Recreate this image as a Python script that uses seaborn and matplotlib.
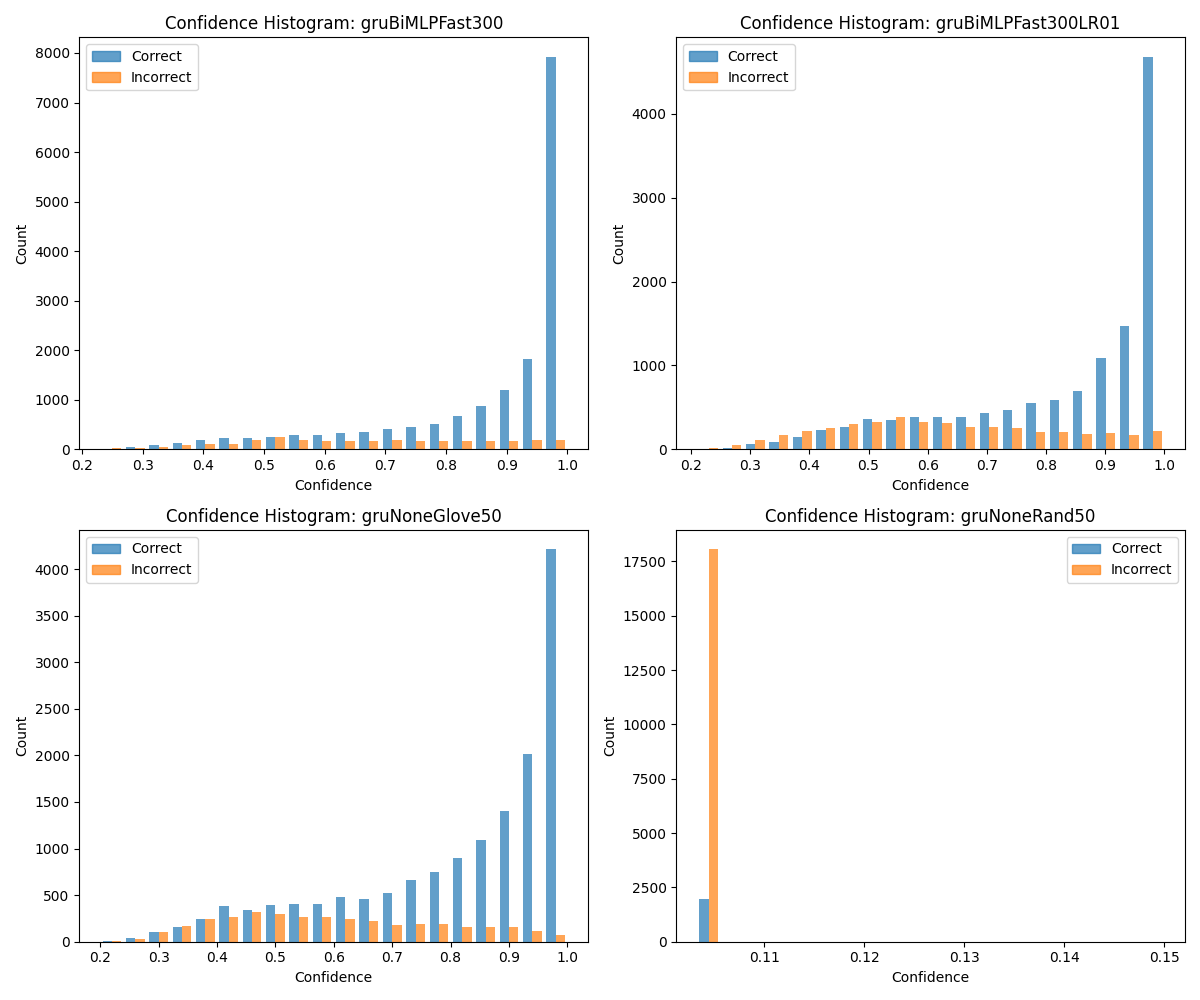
import numpy as np
import pandas as pd
import matplotlib
matplotlib.use("Agg")
import matplotlib.pyplot as plt
import seaborn as sns
from matplotlib.patches import Patch

# Bin counts (20 bins each)
edges_fast300 = np.linspace(0.23, 1.0, 21)
correct_fast300 = [10, 40, 80, 130, 190, 220, 230, 250, 290, 290, 330, 350, 410, 450, 510, 680, 880, 1200, 1820, 7920]
incorrect_fast300 = [20, 30, 50, 80, 100, 110, 190, 250, 180, 170, 170, 170, 180, 170, 170, 160, 170, 170, 190, 190]

edges_lr01 = np.linspace(0.21, 1.0, 21)
correct_lr01 = [5, 20, 60, 90, 150, 230, 260, 360, 350, 390, 390, 380, 430, 470, 550, 590, 690, 1090, 1470, 4680]
incorrect_lr01 = [15, 50, 110, 170, 220, 250, 300, 330, 390, 320, 310, 260, 270, 250, 210, 200, 180, 190, 170, 220]

edges_glove50 = np.linspace(0.2, 1.0, 21)
correct_glove50 = [10, 40, 100, 160, 240, 380, 340, 390, 410, 400, 480, 460, 520, 660, 750, 900, 1090, 1400, 2010, 4210]
incorrect_glove50 = [10, 30, 100, 170, 240, 260, 320, 300, 270, 270, 240, 220, 180, 190, 190, 160, 160, 160, 110, 70]

edges_rand50 = np.linspace(0.1033, 0.15, 21)
correct_rand50 = [1950] + [0] * 19
incorrect_rand50 = [18050] + [0] * 19

panels = [
    ("gruBiMLPFast300", edges_fast300, correct_fast300, incorrect_fast300, "upper left"),
    ("gruBiMLPFast300LR01", edges_lr01, correct_lr01, incorrect_lr01, "upper left"),
    ("gruNoneGlove50", edges_glove50, correct_glove50, incorrect_glove50, "upper left"),
    ("gruNoneRand50", edges_rand50, correct_rand50, incorrect_rand50, "upper right"),
]

colors = {"Correct": "tab:blue", "Incorrect": "tab:orange"}

fig, axes = plt.subplots(2, 2, figsize=(12, 10), dpi=100)
for ax, (name, edges, corr, inc, loc) in zip(axes.flat, panels):
    centers = (edges[:-1] + edges[1:]) / 2
    df = pd.DataFrame({
        "conf": np.concatenate([centers, centers]),
        "count": corr + inc,
        "kind": ["Correct"] * 20 + ["Incorrect"] * 20,
    })
    sns.histplot(data=df, x="conf", weights="count", hue="kind", bins=list(edges),
                 multiple="dodge", shrink=0.8, palette=colors, alpha=0.7,
                 linewidth=0, legend=False, ax=ax)
    ax.set_title(f"Confidence Histogram: {name}")
    ax.set_xlabel("Confidence")
    ax.set_ylabel("Count")
    ax.legend(handles=[Patch(color=colors[k], alpha=0.7, label=k) for k in colors], loc=loc)

plt.tight_layout()
plt.savefig("out.png", dpi=100)
